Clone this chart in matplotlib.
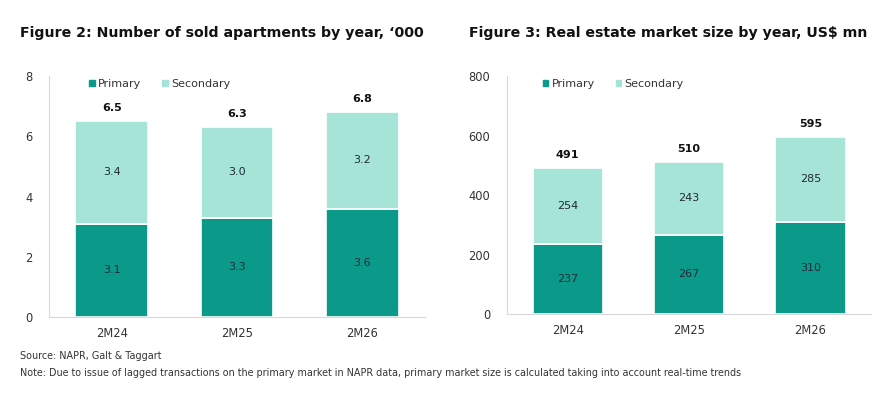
import matplotlib
matplotlib.use("Agg")
import matplotlib.pyplot as plt
from matplotlib.patches import Patch

categories = ["2M24", "2M25", "2M26"]
apt_primary = [3.1, 3.3, 3.6]
apt_secondary = [3.4, 3.0, 3.2]
apt_total = [6.5, 6.3, 6.8]
mkt_primary = [237, 267, 310]
mkt_secondary = [254, 243, 285]
mkt_total = [491, 510, 595]

C_PRI = "#0B9A8A"
C_SEC = "#A6E4D8"
TXT = "#1F2A36"
GRID = "#D9D9D9"

plt.rcParams['font.family'] = ['DejaVu Sans']

fig = plt.figure(figsize=(8.9, 3.99), dpi=100)
ax1 = fig.add_axes([0.0551, 0.2055, 0.4225, 0.604])
ax2 = fig.add_axes([0.5697, 0.213, 0.409, 0.5965])


def draw(ax, pri, sec, tot, ymax, step, fmt, bbox):
    x = range(len(categories))
    ax.bar(x, pri, width=0.58, color=C_PRI, edgecolor="white", linewidth=1.2)
    ax.bar(x, sec, bottom=pri, width=0.58, color=C_SEC, edgecolor="white", linewidth=1.2)
    for i in x:
        ax.text(i, pri[i] / 2, fmt(pri[i]), ha="center", va="center", fontsize=8, color=TXT)
        ax.text(i, pri[i] + sec[i] / 2, fmt(sec[i]), ha="center", va="center", fontsize=8, color=TXT)
        ax.annotate(fmt(tot[i]), (i, pri[i] + sec[i]), xytext=(0, 9.5), textcoords="offset points",
                    ha="center", va="center", fontsize=8, fontweight="bold", color="#111111")
    ax.set_xlim(-0.5, 2.5)
    ax.set_ylim(0, ymax)
    ax.set_yticks(range(0, ymax + 1, step))
    ax.set_xticks(list(x))
    ax.set_xticklabels(categories)
    for s in ["top", "right"]:
        ax.spines[s].set_visible(False)
    for s in ["left", "bottom"]:
        ax.spines[s].set_color(GRID)
        ax.spines[s].set_linewidth(0.8)
    ax.tick_params(axis="both", length=0, labelsize=8.3, colors="#333333")
    ax.tick_params(axis="y", pad=12)
    ax.tick_params(axis="x", pad=7)
    handles = [Patch(color=C_PRI, label="Primary"), Patch(color=C_SEC, label="Secondary")]
    ax.legend(handles=handles, ncol=2, frameon=False, loc="upper left", bbox_to_anchor=bbox,
              handlelength=0.5, handleheight=0.5, handletextpad=0.3, columnspacing=1.9,
              fontsize=8, labelcolor="#333333")


draw(ax1, apt_primary, apt_secondary, apt_total, 8, 2, lambda v: f"{v:.1f}", (0.08, 1.03))
draw(ax2, mkt_primary, mkt_secondary, mkt_total, 800, 200, lambda v: f"{v:.0f}", (0.07, 1.03))

fig.text(20 / 890, 1 - 33 / 399, "Figure 2: Number of sold apartments by year, \u2018000",
         fontsize=10.2, fontweight="bold", color="#111111", va="center")
fig.text(469 / 890, 1 - 33 / 399, "Figure 3: Real estate market size by year, US$ mn",
         fontsize=10.2, fontweight="bold", color="#111111", va="center")
fig.text(20 / 890, 1 - 356 / 399, "Source: NAPR, Galt & Taggart", fontsize=6.9, color="#333333", va="center")
fig.text(20 / 890, 1 - 373 / 399,
         "Note: Due to issue of lagged transactions on the primary market in NAPR data, primary market size is calculated taking into account real-time trends",
         fontsize=6.9, color="#333333", va="center")

fig.savefig("out.png", dpi=100)
